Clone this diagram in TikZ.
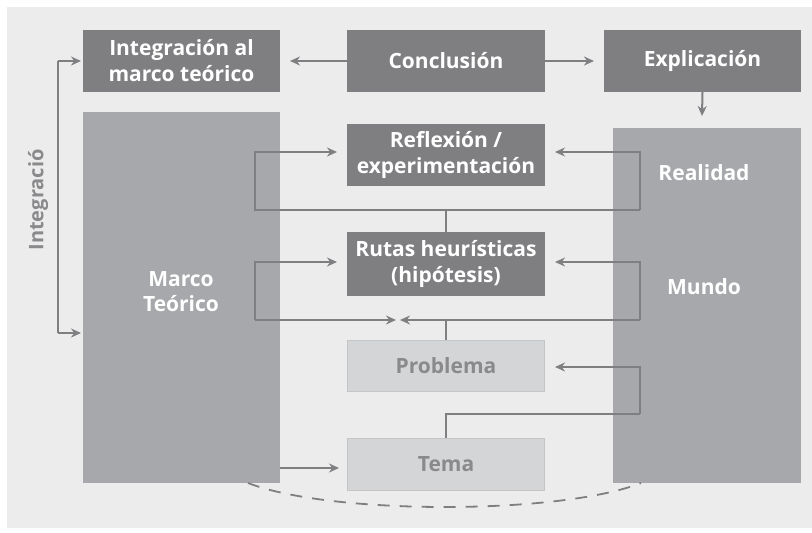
\documentclass[tikz,border=0pt]{standalone}
\usepackage{fontspec}
\setmainfont{Open Sans}
\usetikzlibrary{arrows.meta}
\definecolor{bgc}{HTML}{ECECEC}
\definecolor{darkc}{HTML}{7F7F82}
\definecolor{bigc}{HTML}{A7A8AB}
\definecolor{lightc}{HTML}{D4D5D7}
\definecolor{lightb}{HTML}{C4C5C7}
\definecolor{linec}{HTML}{7F7F82}
\definecolor{ltext}{HTML}{8A8A8D}
\tikzset{
  darkbox/.style={fill=darkc, draw=none, text=white, font=\fontsize{21}{26}\selectfont\bfseries, align=center, inner sep=0pt},
  bigbox/.style={fill=bigc, draw=none, inner sep=0pt},
  lightbox/.style={fill=lightc, draw=lightb, line width=1pt, text=ltext, font=\fontsize{21}{26}\selectfont\bfseries, align=center, inner sep=0pt},
  bigtext/.style={text=white, font=\fontsize{21}{25}\selectfont\bfseries, align=center},
  conn/.style={draw=linec, line width=2pt},
  arr/.style={conn, -{Stealth[length=10pt,width=9pt]}},
}
\begin{document}
\begin{tikzpicture}[x=1pt,y=-1pt]
\useasboundingbox (0,0) rectangle (812,533);
\fill[white] (0,0) rectangle (812,533);
\fill[bgc] (7,7) rectangle (812,528);
% boxes
\node[darkbox, minimum width=197pt, minimum height=62pt] (integ) at (181.5,61) {Integración al\\marco teórico};
\node[darkbox, minimum width=198pt, minimum height=62pt] (concl) at (446,61) {Conclusión};
\node[darkbox, minimum width=197pt, minimum height=62pt] (expl) at (702.5,61) {Explicación};
\node[bigbox, minimum width=197pt, minimum height=371pt] (marco) at (181.5,297.5) {};
\node[bigbox, minimum width=188pt, minimum height=355pt] (mundo) at (707,305.5) {};
\node[darkbox, minimum width=198pt, minimum height=62pt] (refl) at (446,155) {Reflexión /\\experimentación};
\node[darkbox, minimum width=198pt, minimum height=64pt] (rutas) at (446,264) {Rutas heurísticas\\(hipótesis)};
\node[lightbox, minimum width=197pt, minimum height=51pt] (prob) at (446,366) {Problema};
\node[lightbox, minimum width=197pt, minimum height=52pt] (tema) at (446,464.5) {Tema};
% texts in big boxes
\node[bigtext] (tmarco) at (181,292) {Marco\\Teórico};
\node[bigtext] (treal) at (704,173) {Realidad};
\node[bigtext] (tmundo) at (704,287) {Mundo};
% coordinates
\coordinate (a1) at (255,210);
\coordinate (a2) at (255,152);
\coordinate (a3) at (640,210);
\coordinate (a4) at (640,152);
\coordinate (b1) at (255,320);
\coordinate (b2) at (255,262);
\coordinate (b3) at (640,320);
\coordinate (b4) at (640,262);
\coordinate (bm) at (446,320);
\coordinate (c1) at (640,414);
\coordinate (c2) at (640,367);
\coordinate (cm) at (446,414);
\coordinate (am) at (446,210);
\coordinate (L1) at (58,61);
\coordinate (L2) at (58,333);
% top arrows
\draw[arr] (concl.west) -- (integ.east -| 290,0);
\draw[arr] (concl.east) -- (expl.west -| 594,0);
\draw[arr] (expl.south) -- (702,116);
% integration bracket
\draw[conn] (L1) -- (L2);
\draw[arr] (L1) -- (81,61);
\draw[arr] (L2) -- (81,333);
\node[rotate=90, text=ltext, font=\fontsize{20}{24}\selectfont\bfseries] (tint) at (38,200) {Integració};
% reflexion loop
\draw[arr] (a3) -- (a1) -- (a2) -- (337,152);
\draw[arr] (a3) -- (a4) -- (555,152);
\draw[conn] (am) -- (rutas.north);
% rutas loop
\draw[arr] (b1) -- (b2) -- (337,262);
\draw[arr] (b1) -- (396,320);
\draw[arr] (b3) -- (b4) -- (555,262);
\draw[arr] (b3) -- (400,320);
\draw[conn] (bm) -- (prob.north);
% problema loop
\draw[arr] (c1) -- (c2) -- (555,367);
\draw[conn] (c1) -- (cm) -- (tema.north);
% marco -> tema
\draw[arr] (280,468) -- (339,468);
% dashed curve
\draw[draw=linec, line width=1.8pt, dash pattern=on 12pt off 10pt] (248,483) .. controls (330,515) and (560,515) .. (641,483);
\end{tikzpicture}
\end{document}
